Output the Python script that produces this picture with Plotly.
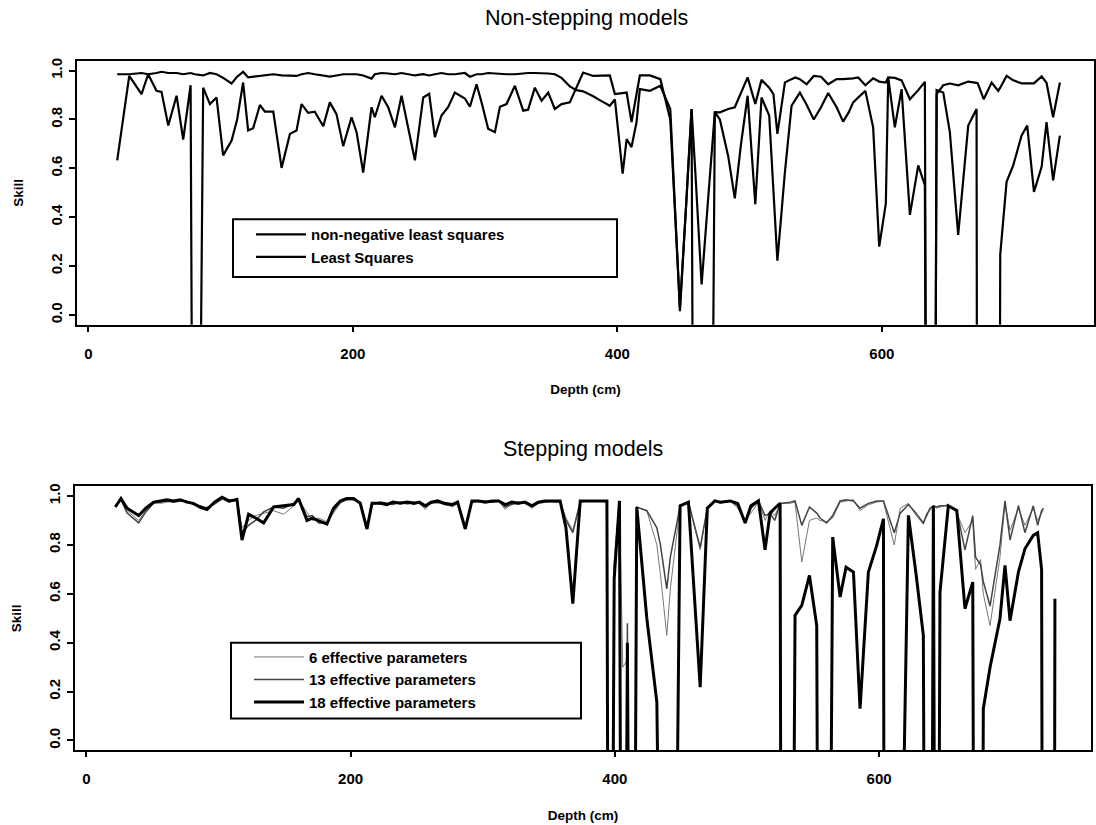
import plotly.graph_objects as go

# ---------------- Non-stepping models ----------------
depth_top = [21.8, 26.3, 30.9, 40.2, 45.2, 51.5, 55.3, 60.4, 66.7, 71.7, 77.3, 80.5, 86.8, 91.9, 96.9,
             101.9, 108.3, 112.5, 117.0, 120.8, 124.6, 129.7, 133.5, 139.8, 146.1, 152.4, 157.4, 161.2,
             166.2, 171.2, 177.6, 182.6, 187.6, 192.7, 199.0, 202.8, 207.8, 214.1, 216.6, 221.7, 226.7,
             231.8, 236.8, 246.9, 253.2, 257.7, 262.0, 267.0, 272.0, 277.1, 284.7, 288.5, 293.5, 297.3,
             302.3, 307.4, 311.2, 316.2, 322.5, 328.8, 332.5, 337.6, 342.7, 347.7, 352.7, 357.8, 364.1,
             369.0, 374.1, 381.7, 388.0, 394.3, 398.1, 404.0, 407.0, 410.7, 414.5, 417.0, 424.6, 432.5,
             440.0, 447.3, 452.0, 456.1, 459.0, 463.7, 468.7, 473.7, 477.5, 483.8, 488.8, 493.5, 498.5,
             504.3, 509.0, 514.8, 518.0, 521.0, 526.7, 531.7, 534.5, 538.0, 543.1, 548.5, 554.0, 559.4,
             565.8, 570.7, 575.0, 578.3, 582.1, 587.5, 593.4, 598.0, 603.0, 604.8, 609.8, 614.9, 621.2,
             627.5, 632.5, 635.0, 638.8, 641.4, 646.4, 651.4, 657.7, 665.3, 671.6, 672.5, 677.0, 683.0,
             688.0, 689.5, 694.3, 699.3, 705.6, 709.9, 715.0, 720.8, 724.5, 729.5, 734.6]

skill_nnls = [0.985, 0.985, 0.985, 0.99, 0.985, 0.99, 0.995, 0.99, 0.99, 0.985, 0.99, 0.985, 0.98, 0.99, 0.985,
              0.97, 0.947, 0.975, 0.995, 0.972, 0.975, 0.98, 0.98, 0.985, 0.98, 0.98, 0.978, 0.985,
              0.99, 0.985, 0.98, 0.975, 0.98, 0.985, 0.985, 0.985, 0.98, 0.967, 0.985, 0.99, 0.988,
              0.985, 0.99, 0.98, 0.985, 0.98, 0.985, 0.99, 0.985, 0.985, 0.99, 0.975, 0.985, 0.985,
              0.99, 0.988, 0.985, 0.985, 0.985, 0.99, 0.99, 0.99, 0.99, 0.988, 0.985, 0.97, 0.935,
              0.92, 0.915, 0.895, 0.875, 0.856, 0.882, 0.578, 0.72, 0.687, 0.789, 0.924, 0.917, 0.938,
              0.843, 0.016, 0.45, 0.843, 0.58, 0.125, 0.48, 0.83, 0.829, 0.843, 0.85, 0.91, 0.972,
              0.863, 0.962, 0.93, 0.904, 0.741, 0.951, 0.965, 0.972, 0.965, 0.944, 0.978, 0.975, 0.944,
              0.965, 0.965, 0.966, 0.968, 0.972, 0.94, 0.968, 0.955, 0.951, 0.972, 0.97, 0.96, 0.883,
              0.92, 0.954, -3.0, -3.0, 0.904, 0.94, 0.947, 0.94, 0.955, 0.95, 0.948, 0.883, 0.951,
              0.917, 0.93, 0.978, 0.96, 0.948, 0.948, 0.948, 0.976, 0.95, 0.809, 0.951]

skill_ls = [0.633, 0.80, 0.978, 0.904, 0.985, 0.917, 0.913, 0.775, 0.897, 0.718, 0.94, -3.0, 0.93, 0.863, 0.89,
            0.653, 0.714, 0.80, 0.951, 0.755, 0.764, 0.859, 0.832, 0.832, 0.602, 0.741, 0.755, 0.863,
            0.827, 0.832, 0.772, 0.87, 0.822, 0.691, 0.809, 0.748, 0.583, 0.85, 0.809, 0.897, 0.85,
            0.768, 0.897, 0.633, 0.89, 0.905, 0.728, 0.816, 0.85, 0.91, 0.886, 0.852, 0.944, 0.87,
            0.762, 0.748, 0.852, 0.863, 0.938, 0.836, 0.84, 0.93, 0.877, 0.91, 0.843, 0.863, 0.87,
            0.93, 0.992, 0.978, 0.98, 0.98, 0.904, 0.91, 0.91, 0.789, 0.904, 0.98, 0.98, 0.965,
            0.80, 0.03, 0.45, 0.843, -3.0, -3.0, -3.0, 0.83, 0.80, 0.65, 0.477, 0.70, 0.897,
            0.453, 0.89, 0.816, 0.50, 0.222, 0.585, 0.856, 0.88, 0.91, 0.86, 0.80, 0.85, 0.908,
            0.85, 0.791, 0.83, 0.87, 0.89, 0.917, 0.768, 0.28, 0.457, 0.972, 0.768, 0.924, 0.41,
            0.612, 0.531, -3.0, -3.0, 0.92, 0.91, 0.748, 0.328, 0.775, 0.843, -3.0, -3.0, -3.0,
            -3.0, 0.247, 0.545, 0.612, 0.734, 0.775, 0.504, 0.606, 0.789, 0.551, 0.734]

# ---------------- Stepping models ----------------
depth_step = [21.9, 26.2, 30.8, 35, 39.6, 45, 50.9, 56, 61, 66, 71, 76, 81, 86, 91.3, 97, 102.7, 108, 114,
              117.8, 122.8, 128, 134.2, 141.7, 149.3, 157, 160.6, 167, 171, 175.8, 182.1, 187, 192.2, 197,
              202.3, 207.3, 212.4, 216.2, 222.4, 227.5, 232, 237.6, 243, 248, 252, 256.5, 261, 266, 271,
              276.9, 281, 286.8, 291.8, 297, 302, 307, 312, 317, 322, 327, 332, 337.2, 342, 347, 352,
              358.6, 363, 368.2, 373.8, 379, 384, 389, 394,
              396, 399.5, 403.5, 406, 409.5, 413, 416.6, 424.2, 431.8, 434.5, 439.3, 442, 449.4, 455.7,
              464.6, 470, 475.7,
              479.7, 487.3, 493, 498.6, 503, 508.7, 513.7, 517.5, 521, 525.1, 526.6, 532.6, 536.4, 541.5,
              547.3, 552.8, 555.3, 560.3, 564.9, 570.5, 575, 580.6, 585.6, 591.9, 598.2, 603.3, 604.5,
              611.5, 616, 622.2, 628, 633.5, 636, 638.5, 641.1, 643.5, 646.1, 652.4, 658.8, 665, 670.9,
              673, 676.8, 678.9, 684, 691.5, 695.3, 699.1, 705.5, 710.4, 716.7, 720, 723, 724.5, 732, 733.1]

skill_p6 = [0.96, 0.985, 0.94, 0.92, 0.90, 0.94, 0.975, 0.97, 0.975, 0.98,
            0.985, 0.975, 0.97, 0.95, 0.955, 0.965, 0.985, 0.985, 0.98, 0.87,
            0.90, 0.92, 0.93, 0.94, 0.925, 0.96, 0.985, 0.93, 0.90, 0.91,
            0.895, 0.93, 0.97, 0.985, 0.99, 0.97, 0.875, 0.975, 0.965, 0.97,
            0.97, 0.975, 0.965, 0.975, 0.97, 0.945, 0.975, 0.97, 0.975, 0.955,
            0.97, 0.875, 0.975, 0.975, 0.98, 0.975, 0.98, 0.945, 0.97, 0.965,
            0.975, 0.95, 0.97, 0.98, 0.975, 0.975, 0.91, 0.86, 0.98, 0.98,
            0.98, 0.98, 0.98,
            -3.0, 0.68, 0.98, 0.30, 0.33, -3.0, 0.955, 0.94, 0.80, 0.68, 0.43, 0.62, 0.96, 0.975,
            0.78, 0.95, 0.98,
            0.97, 0.98, 0.95, 0.90, 0.93, 0.975, 0.90, 0.94, 0.92, 0.965, 0.97, 0.97, 0.975, 0.73,
            0.90, 0.91, 0.90, 0.895, 0.91, 0.975, 0.98, 0.985, 0.94, 0.965, 0.975, 0.98, 0.95,
            0.80, 0.95, 0.97, 0.92, 0.885, 0.93, 0.94, 0.96, 0.95, 0.955, 0.965, 0.93, 0.85, 0.90,
            0.70, 0.74, 0.60, 0.47, 0.75, 0.97, 0.86, 0.95, 0.88, 0.95, 0.90, 0.93, 0.94, None, None]

skill_p13 = [0.96, 0.985, 0.93, 0.91, 0.89, 0.935, 0.97, 0.975, 0.98, 0.975,
             0.98, 0.98, 0.965, 0.96, 0.95, 0.97, 0.99, 0.975, 0.99, 0.85,
             0.88, 0.90, 0.935, 0.955, 0.95, 0.97, 0.985, 0.915, 0.92, 0.89,
             0.89, 0.94, 0.975, 0.985, 0.985, 0.975, 0.87, 0.965, 0.975, 0.97,
             0.965, 0.975, 0.97, 0.975, 0.97, 0.955, 0.97, 0.975, 0.965, 0.96,
             0.97, 0.87, 0.975, 0.98, 0.98, 0.975, 0.98, 0.955, 0.965, 0.975,
             0.97, 0.955, 0.97, 0.975, 0.98, 0.975, 0.90, 0.85, 0.975, 0.98,
             0.98, 0.98, 0.98,
             -3.0, 0.72, 0.98, -3.0, 0.48, -3.0, 0.955, 0.94, 0.87, 0.80, 0.62, 0.75, 0.96, 0.975,
             0.79, 0.95, 0.98,
             0.975, 0.98, 0.96, 0.89, 0.95, 0.98, 0.92, 0.93, 0.90, 0.97, 0.97, 0.975, 0.98, 0.88,
             0.955, 0.93, 0.91, 0.89, 0.92, 0.98, 0.985, 0.98, 0.95, 0.97, 0.98, 0.98, 0.96,
             0.85, 0.93, 0.965, 0.93, 0.89, 0.92, 0.95, 0.96, 0.955, 0.96, 0.96, 0.94, 0.78, 0.92,
             0.75, 0.72, 0.65, 0.55, 0.80, 0.98, 0.82, 0.96, 0.85, 0.96, 0.88, 0.94, 0.95, None, None]

skill_p18 = [0.955, 0.99, 0.95, 0.935, 0.92, 0.95, 0.975, 0.98, 0.985, 0.98,
             0.985, 0.975, 0.97, 0.955, 0.945, 0.975, 0.995, 0.98, 0.985, 0.82,
             0.925, 0.91, 0.89, 0.955, 0.96, 0.965, 0.99, 0.90, 0.91, 0.90,
             0.885, 0.95, 0.98, 0.99, 0.99, 0.97, 0.865, 0.97, 0.97, 0.965,
             0.975, 0.97, 0.975, 0.97, 0.975, 0.96, 0.975, 0.98, 0.97, 0.965,
             0.975, 0.865, 0.98, 0.98, 0.975, 0.98, 0.98, 0.965, 0.975, 0.97,
             0.975, 0.96, 0.975, 0.98, 0.98, 0.98, 0.87, 0.56, 0.98, 0.98,
             0.98, 0.98, 0.98,
             -3.0, 0.66, 0.98, -3.0, 0.40, -3.0, 0.955, 0.50, 0.157, -3.0, -3.0, -3.0, 0.96, 0.975,
             0.218, 0.95, 0.98,
             0.975, 0.98, 0.97, 0.89, 0.96, 0.98, 0.78, 0.93, 0.95, 0.97, -3.0, -3.0, 0.512, 0.553,
             0.675, 0.47, -3.0, -3.0, 0.832, 0.587, 0.709, 0.689, 0.13, 0.689, 0.798, 0.907, -3.0,
             -3.0, -1.0, 0.921, 0.68, 0.43, -3.0, -3.0, 0.96, -3.0, 0.607, 0.96, 0.941, 0.539, 0.648,
             -3.0, -3.0, 0.13, 0.30, 0.498, 0.716, 0.49, 0.69, 0.784, 0.839, 0.85, 0.70, -3.0, -3.0, 0.58]

depth_ticks = [0, 200, 400, 600]
skill_ticks = [0.0, 0.2, 0.4, 0.6, 0.8, 1.0]

W, H = 1096, 825
FONT = "Liberation Sans, Arial, Helvetica, sans-serif"


def fx(p):
    return p / W


def fy(p):
    return 1 - p / H


fig = go.Figure()

fig.add_trace(go.Scatter(x=depth_top, y=skill_nnls, mode="lines", name="non-negative least squares",
                         line=dict(color="black", width=2.2), xaxis="x", yaxis="y", legend="legend"))
fig.add_trace(go.Scatter(x=depth_top, y=skill_ls, mode="lines", name="Least Squares",
                         line=dict(color="black", width=2.2), xaxis="x", yaxis="y", legend="legend"))

fig.add_trace(go.Scatter(x=depth_step, y=skill_p6, mode="lines", name="6 effective parameters",
                         line=dict(color="#777777", width=1), xaxis="x2", yaxis="y2", legend="legend2"))
fig.add_trace(go.Scatter(x=depth_step, y=skill_p13, mode="lines", name="13 effective parameters",
                         line=dict(color="#444444", width=1.5), xaxis="x2", yaxis="y2", legend="legend2"))
fig.add_trace(go.Scatter(x=depth_step, y=skill_p18, mode="lines", name="18 effective parameters",
                         line=dict(color="black", width=3), xaxis="x2", yaxis="y2", legend="legend2"))

tick_font = dict(family=FONT, size=15, color="black", weight="bold")
label_font = dict(family=FONT, size=13.5, color="black", weight="bold")


def xaxis_style(domain, anchor):
    return dict(domain=domain, anchor=anchor, range=[-8.6, 760.4], tickmode="array",
                tickvals=depth_ticks, ticks="outside", ticklen=5, tickwidth=1.5, tickcolor="black",
                showline=True, mirror=True, linecolor="black", linewidth=2, showgrid=False,
                zeroline=False, tickfont=tick_font, ticklabelstandoff=9,
                title=dict(text="Depth (cm)", font=label_font, standoff=24))


def yaxis_style(domain, anchor):
    return dict(domain=domain, anchor=anchor, range=[-0.04, 1.04], tickmode="array",
                tickvals=skill_ticks, tickformat=".1f", tickangle=-90, ticks="outside", ticklen=6,
                tickwidth=1.5, tickcolor="black", showline=True, mirror=True, linecolor="black",
                linewidth=2, showgrid=False, zeroline=False, tickfont=tick_font,
                ticklabelstandoff=1, title=dict(text="Skill", font=label_font, standoff=21))


legend_font = dict(family=FONT, size=15, color="black", weight="bold")

fig.update_layout(
    width=W, height=H, margin=dict(l=0, r=0, t=0, b=0),
    paper_bgcolor="white", plot_bgcolor="white",
    xaxis=xaxis_style([fx(77), fx(1094)], "y"),
    yaxis=yaxis_style([fy(323), fy(58)], "x"),
    xaxis2=xaxis_style([fx(75), fx(1091)], "y2"),
    yaxis2=yaxis_style([fy(750), fy(485)], "x2"),
    legend=dict(x=fx(251), y=fy(216), xanchor="left", yanchor="top", bgcolor="rgba(0,0,0,0)",
                borderwidth=0, font=legend_font, itemwidth=50, tracegroupgap=0),
    legend2=dict(x=fx(249), y=fy(640), xanchor="left", yanchor="top", bgcolor="rgba(0,0,0,0)",
                 borderwidth=0, font=legend_font, itemwidth=50, tracegroupgap=0),
    shapes=[
        dict(type="rect", xref="paper", yref="paper", x0=fx(233), x1=fx(617), y0=fy(275), y1=fy(217),
             line=dict(color="black", width=2), fillcolor="rgba(0,0,0,0)"),
        dict(type="rect", xref="paper", yref="paper", x0=fx(231), x1=fx(581), y0=fy(718), y1=fy(642),
             line=dict(color="black", width=2), fillcolor="rgba(0,0,0,0)"),
    ],
    annotations=[
        dict(text="Non-stepping models", x=fx(586), y=fy(15), xref="paper", yref="paper",
             xanchor="center", yanchor="middle", showarrow=False,
             font=dict(family=FONT, size=21.5, color="black")),
        dict(text="Stepping models", x=fx(583), y=fy(448), xref="paper", yref="paper",
             xanchor="center", yanchor="middle", showarrow=False,
             font=dict(family=FONT, size=21.5, color="black")),
    ],
)

fig.write_html("out.html")
